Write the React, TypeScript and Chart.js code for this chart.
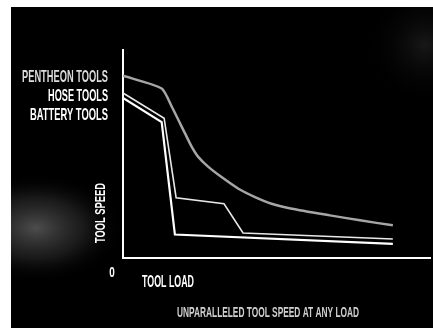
import React, { useEffect, useRef } from "react";
import { Chart, registerables } from "chart.js";

Chart.register(...registerables);

// Tool load (x, 0–100) vs tool speed (y, 0–100)
const pentheonLoad = [0, 12.6, 15.9, 20.2, 22.4, 24.5, 27.8, 32.1, 37.6, 43.0, 48.4, 55.0, 67.4, 77.2, 87.9];
const pentheonSpeed = [87.6, 81.5, 72.7, 59.9, 53.4, 48.6, 43.8, 38.9, 33.3, 29.3, 26.1, 23.7, 20.5, 18.1, 15.7];

const hoseLoad = [0, 13.4, 17.3, 32.9, 39.1, 87.9];
const hoseSpeed = [79.3, 67.2, 29.0, 26.1, 12.0, 9.1];

const batteryLoad = [0, 12.6, 16.9, 87.9];
const batterySpeed = [76.9, 65.3, 11.3, 6.8];

const seriesNames = ["PENTHEON TOOLS", "HOSE TOOLS", "BATTERY TOOLS"];
const yAxisTitle = "TOOL SPEED";
const xAxisTitle = "TOOL LOAD";
const originLabel = "0";
const caption = "UNPARALLELED TOOL SPEED AT ANY LOAD";

const toPoints = (xs: number[], ys: number[]) => xs.map((x, i) => ({ x, y: ys[i] }));

const FONT = '"Liberation Sans", Arial, sans-serif';

function drawFitted(
  ctx: CanvasRenderingContext2D,
  text: string,
  x: number,
  y: number,
  size: number,
  width: number,
  align: CanvasTextAlign,
  color: string,
  rotate = 0
) {
  ctx.save();
  ctx.font = `bold ${size}px ${FONT}`;
  const natural = ctx.measureText(text).width;
  const sx = width / natural;
  ctx.translate(x, y);
  if (rotate) ctx.rotate(rotate);
  ctx.scale(sx, 1);
  ctx.fillStyle = color;
  ctx.textAlign = align;
  ctx.textBaseline = "middle";
  ctx.fillText(text, 0, 0);
  ctx.restore();
}

const decorPlugin = {
  id: "decor",
  beforeDraw(chart: any) {
    const ctx: CanvasRenderingContext2D = chart.ctx;
    const w = chart.width;
    const h = chart.height;
    ctx.save();
    ctx.fillStyle = "#ffffff";
    ctx.fillRect(0, 0, w, h);
    ctx.fillStyle = "#000000";
    ctx.fillRect(11, 7, w - 11, h - 7);
    ctx.beginPath();
    ctx.rect(11, 7, w - 11, h - 7);
    ctx.clip();
    // soft grey glow on the left
    ctx.save();
    ctx.translate(36, 228);
    ctx.scale(1.6, 1);
    const g = ctx.createRadialGradient(0, 0, 0, 0, 0, 55);
    g.addColorStop(0, "rgba(140,140,140,0.55)");
    g.addColorStop(0.55, "rgba(100,100,100,0.25)");
    g.addColorStop(1, "rgba(0,0,0,0)");
    ctx.fillStyle = g;
    ctx.fillRect(-60, -60, 120, 120);
    ctx.restore();
    const g2 = ctx.createRadialGradient(425, 45, 0, 425, 45, 60);
    g2.addColorStop(0, "rgba(120,120,120,0.2)");
    g2.addColorStop(1, "rgba(0,0,0,0)");
    ctx.fillStyle = g2;
    ctx.fillRect(340, 7, 93, 110);
    ctx.restore();
  },
  afterDraw(chart: any) {
    const ctx: CanvasRenderingContext2D = chart.ctx;
    const left = chart.chartArea.left;
    const bottom = chart.chartArea.bottom;
    const labelY = [77.5, 96, 115];
    const labelW = [86, 60, 78];
    seriesNames.forEach((name, i) => {
      drawFitted(ctx, name, 108, labelY[i], 17, labelW[i], "right", i === 0 ? "#dcdcdc" : "#ffffff");
    });
    drawFitted(ctx, yAxisTitle, left - 22, 213, 14, 60, "center", "#ffffff", -Math.PI / 2);
    drawFitted(ctx, originLabel, left - 11, bottom + 15, 15, 5.5, "center", "#ffffff");
    drawFitted(ctx, xAxisTitle, left + 19, bottom + 25, 16, 52, "left", "#ffffff");
    drawFitted(ctx, caption, 177, 313, 14, 182, "left", "#cfcfcf");
  },
};

export default function App() {
  const canvasRef = useRef<HTMLCanvasElement | null>(null);

  useEffect(() => {
    document.body.style.margin = "0";
    const canvas = canvasRef.current;
    if (!canvas) return;
    const chart = new Chart(canvas, {
      type: "line",
      data: {
        datasets: [
          {
            label: seriesNames[0],
            data: toPoints(pentheonLoad, pentheonSpeed),
            borderColor: "#a6a6a6",
            borderWidth: 2.5,
            pointRadius: 0,
            tension: 0.2,
          },
          {
            label: seriesNames[1],
            data: toPoints(hoseLoad, hoseSpeed),
            borderColor: "#e8e8e8",
            borderWidth: 1.6,
            pointRadius: 0,
            tension: 0,
          },
          {
            label: seriesNames[2],
            data: toPoints(batteryLoad, batterySpeed),
            borderColor: "#ffffff",
            borderWidth: 2.2,
            pointRadius: 0,
            tension: 0,
          },
        ],
      },
      options: {
        animation: false,
        responsive: false,
        maintainAspectRatio: false,
        devicePixelRatio: 1,
        layout: { padding: { left: 115, right: 3, top: 50, bottom: 62 } },
        plugins: {
          legend: { display: false },
          tooltip: { enabled: false },
          title: { display: false },
        },
        scales: {
          x: {
            type: "linear",
            min: 0,
            max: 100,
            grid: { display: false },
            ticks: { display: false },
            border: { display: true, color: "#ffffff", width: 2 },
          },
          y: {
            type: "linear",
            min: 0,
            max: 100,
            grid: { display: false },
            ticks: { display: false },
            border: { display: true, color: "#ffffff", width: 2 },
          },
        },
      },
      plugins: [decorPlugin],
    });
    return () => chart.destroy();
  }, []);

  return (
    <div style={{ position: "relative", width: 433, height: 328 }}>
      <canvas ref={canvasRef} width={433} height={328} style={{ display: "block", width: 433, height: 328 }} />
    </div>
  );
}
